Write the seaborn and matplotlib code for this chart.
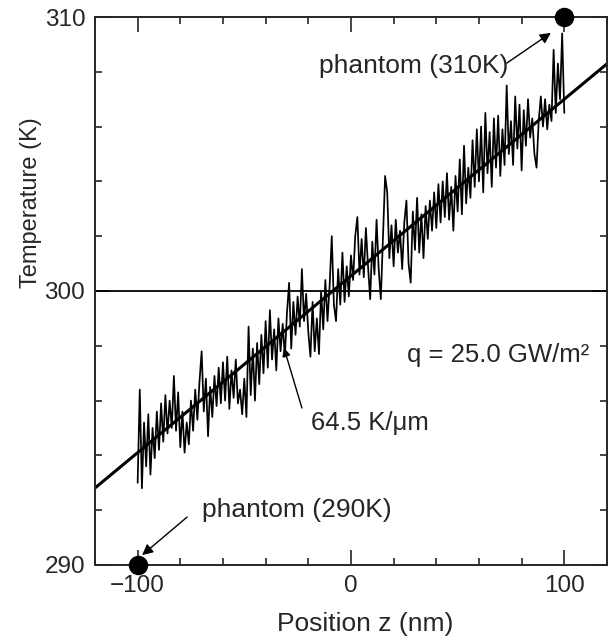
import numpy as np
import pandas as pd
import matplotlib
matplotlib.use("Agg")
import matplotlib.pyplot as plt
from matplotlib.ticker import MultipleLocator
import seaborn as sns

# temperature profile, one value per nm from -100 to 100
z_nm = list(range(-100, 101))
temp_k = [
    293.0, 296.4, 292.8, 295.2, 293.6, 295.5, 293.3, 295.0, 293.9, 295.6,
    294.2, 295.9, 294.5, 296.2, 294.8, 296.0, 295.0, 296.9, 294.9, 296.3,
    294.3, 295.6, 294.1, 295.2, 294.4, 296.0, 294.9, 296.4, 295.3, 296.7,
    297.8, 295.6, 296.8, 294.7, 296.5, 295.4, 296.9, 295.8, 297.2, 295.9,
    297.4, 296.0, 297.6, 295.7, 297.1, 296.1, 297.5, 295.9, 296.4, 295.5,
    296.8, 295.4, 298.7, 296.2, 297.9, 296.0, 298.1, 296.6, 298.4, 297.0,
    298.9, 297.2, 299.3, 297.5, 298.6, 297.1, 299.0, 297.8, 298.8, 297.6,
    299.2, 300.3, 297.9, 299.6, 298.4, 299.8, 298.7, 300.8, 298.9, 299.9,
    298.5, 297.6, 299.6, 297.8, 299.0, 297.7, 300.0, 298.6, 300.4, 298.9,
    300.2, 302.0, 299.5, 298.9, 300.8, 299.5, 301.4, 299.6, 300.9, 299.8,
    301.3, 300.4, 302.0, 302.7, 300.6, 301.9, 300.5, 302.3, 300.9, 299.7,
    301.8, 300.6, 302.6, 300.8, 299.7, 302.0, 304.2, 303.6, 301.2, 302.4,
    300.9, 302.6, 301.4, 302.2, 300.8, 302.5, 303.3, 301.0, 300.3, 302.9,
    301.5, 303.4, 301.4, 302.8, 301.2, 303.1, 301.9, 303.3, 302.2, 303.6,
    302.3, 303.9, 302.5, 304.0, 302.7, 304.3, 302.6, 303.8, 302.2, 304.2,
    302.9, 304.8, 302.8, 305.3, 303.2, 304.5, 303.4, 305.5, 303.8, 305.9,
    304.0, 306.0, 303.6, 306.5, 304.3, 305.8, 303.8, 306.3, 304.5, 306.4,
    304.2, 305.9, 304.6, 307.5, 305.0, 306.2, 304.6, 307.1, 305.2, 306.8,
    304.4, 306.6, 305.3, 307.0, 305.6, 306.3, 305.0, 304.5, 306.2, 307.1,
    306.0, 307.0, 305.9, 306.8, 306.2, 308.8, 306.5, 308.3, 307.0, 309.4,
    306.5,
]

# linear fit: 64.5 K/um
fit_z = [-120, 120]
fit_t = [292.81, 308.29]

phantom_z = [-100, 100]
phantom_t = [290, 310]

sns.set_style("ticks")
plt.rcParams["font.family"] = ["Liberation Sans", "DejaVu Sans"]
plt.rcParams["axes.unicode_minus"] = True

fig = plt.figure(figsize=(6.1, 6.44), dpi=100)
ax = fig.add_axes([0.1557, 0.1227, 0.8393, 0.8509])

df = pd.DataFrame({"z": z_nm, "T": temp_k})
sns.lineplot(data=df, x="z", y="T", ax=ax, color="black", linewidth=1.25, sort=False)
sns.lineplot(x=fit_z, y=fit_t, ax=ax, color="black", linewidth=2.2)
ax.axhline(300, color="black", linewidth=1.3)
ax.plot(phantom_z, phantom_t, "o", color="black", markersize=13, clip_on=False, zorder=5)

ax.set_xlim(-120, 120)
ax.set_ylim(290, 310)
ax.xaxis.set_major_locator(MultipleLocator(100))
ax.xaxis.set_minor_locator(MultipleLocator(20))
ax.yaxis.set_major_locator(MultipleLocator(10))
ax.yaxis.set_minor_locator(MultipleLocator(2))
ax.tick_params(which="both", direction="in", top=True, right=True, width=1.2, labelsize=17.5)
ax.tick_params(which="major", length=11, pad=7)
ax.tick_params(which="minor", length=5)
for sp in ax.spines.values():
    sp.set_linewidth(1.4)
    sp.set_visible(True)

ax.set_xlabel("Position z (nm)", fontsize=19)
ax.set_ylabel("Temperature (K)", fontsize=17)
ax.xaxis.set_label_coords(0.527, -0.086)
ax.yaxis.set_label_coords(-0.1035, 0.662)

# labels and their arrows
ax.text(74, 308.2, "phantom (310K)", fontsize=19, ha="right", va="center")
ax.annotate("", xy=(93.7, 309.42), xytext=(73.1, 308.32),
            arrowprops=dict(arrowstyle="-|>", color="black", lw=1, mutation_scale=16,
                            shrinkA=0, shrinkB=0))
ax.text(-69.8, 292.0, "phantom (290K)", fontsize=19, ha="left", va="center")
ax.annotate("", xy=(-97.9, 290.36), xytext=(-76.8, 291.75),
            arrowprops=dict(arrowstyle="-|>", color="black", lw=1, mutation_scale=16,
                            shrinkA=0, shrinkB=0))
ax.text(-18.7, 295.18, "64.5 K/\u03bcm", fontsize=18.5, ha="left", va="center")
ax.annotate("", xy=(-31.4, 297.92), xytext=(-23, 295.73),
            arrowprops=dict(arrowstyle="-|>", color="black", lw=1, mutation_scale=12,
                            shrinkA=0, shrinkB=0))
ax.text(111.5, 297.66, "q = 25.0 GW/m\u00b2", fontsize=18.5, ha="right", va="center")

fig.savefig("out.png", dpi=100)
